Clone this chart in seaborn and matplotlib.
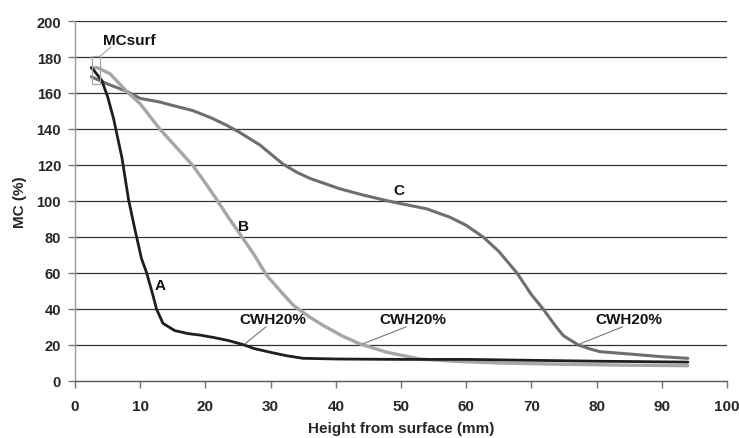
import matplotlib
matplotlib.use("Agg")
import matplotlib.pyplot as plt
import seaborn as sns
import pandas as pd
from matplotlib import font_manager
from matplotlib.patches import Rectangle

# ---- data ----
a_x = [2.5, 2.8, 4.1, 5.0, 5.9, 7.2, 8.2, 9.2, 10.2, 11.0, 12.0, 12.5, 13.5, 15.3, 17.4, 19.2,
       21.5, 23.5, 25.8, 27.5, 29.9, 32.5, 35, 40.6, 50, 60, 70, 80, 94]
a_y = [174, 173, 167, 158, 146, 124, 101, 84, 68, 60, 47, 40, 32, 28, 26.3, 25.5,
       24, 22.5, 20.2, 18, 16, 14, 12.6, 12.2, 12, 12, 11.5, 11, 10.5]

b_x = [2.5, 3.5, 5.4, 7.9, 10, 13, 15.5, 18.1, 20, 21.7, 23.5, 25.3, 27.5, 29.4, 31.5, 33.5,
       36, 38.1, 41, 43.7, 47.8, 52.9, 58, 65, 75, 85, 94]
b_y = [174, 174, 170.6, 161, 154, 140, 130, 119.6, 110, 101, 91, 81.7, 70, 58.7, 50, 42,
       35.5, 30.8, 25, 20.6, 16, 12.2, 11, 10, 9.3, 8.8, 8.5]

c_x = [2.5, 5, 7.9, 10, 13, 14, 18.1, 21, 23.3, 25.3, 28.4, 31.9, 34, 36, 40.6, 44, 47.8, 50,
       53.9, 57.5, 60, 62.6, 65, 67.7, 70, 71.8, 73.5, 74.9, 77.2, 79, 80.5, 85, 90, 94]
c_y = [169, 165, 161, 157, 155, 154, 150.2, 146, 142, 138, 131, 120.5, 116, 112.6, 106.8, 103.5,
       100.2, 98.5, 95.7, 91, 86.5, 80, 72, 60.4, 48, 40, 31.5, 25.2, 20, 17.8, 16.3, 15, 13.5, 12.6]

x_ticks = [0, 10, 20, 30, 40, 50, 60, 70, 80, 90, 100]
y_ticks = [0, 20, 40, 60, 80, 100, 120, 140, 160, 180, 200]

curve_labels = ["A", "B", "C"]
curve_label_pos = [(13.0, 53.5), (25.9, 86.0), (49.7, 106.0)]
cwh_text_pos = [(30.3, 34.6), (51.8, 34.6), (85.0, 34.6)]
cwh_point = [(26.1, 20.7), (44.2, 20.7), (77.5, 20.7)]

# ---- style ----
sns.set_style("white")
names = {f.name for f in font_manager.fontManager.ttflist}
narrow = "Liberation Sans Narrow" if "Liberation Sans Narrow" in names else "Liberation Sans"
plt.rcParams["font.family"] = ["Liberation Sans", "DejaVu Sans"]
plt.rcParams["font.weight"] = "bold"

fig = plt.figure(figsize=(7.39, 4.39), dpi=100)
ax = fig.add_axes([75 / 739, 57 / 439, 652 / 739, 360 / 439])

df_a = pd.DataFrame({"x": a_x, "y": a_y})
df_b = pd.DataFrame({"x": b_x, "y": b_y})
df_c = pd.DataFrame({"x": c_x, "y": c_y})

sns.lineplot(data=df_c, x="x", y="y", color="#6e6e6e", lw=2.2, sort=False, estimator=None, ax=ax, zorder=3)
sns.lineplot(data=df_b, x="x", y="y", color="#a6a6a6", lw=2.4, sort=False, estimator=None, ax=ax, zorder=4)
sns.lineplot(data=df_a, x="x", y="y", color="#1e1e1e", lw=2.0, sort=False, estimator=None, ax=ax, zorder=5)

ax.set_xlim(0, 100)
ax.set_ylim(0, 200)
ax.set_xticks(x_ticks)
ax.set_yticks(y_ticks)
ax.set_xticklabels([str(t) for t in x_ticks], fontfamily=narrow, fontweight="bold", fontsize=11)
ax.set_yticklabels([str(t) for t in y_ticks], fontweight="bold", fontsize=10.5)

for yv in y_ticks[1:]:
    ax.axhline(yv, color="#333333", lw=0.9, zorder=1)

for s in ["top", "right"]:
    ax.spines[s].set_visible(False)
ax.spines["left"].set_color("#999999")
ax.spines["left"].set_linewidth(1.0)
ax.spines["bottom"].set_color("#555555")
ax.spines["bottom"].set_linewidth(1.0)
ax.tick_params(axis="x", direction="out", length=5, width=1, color="#777777", pad=8, bottom=True)
ax.tick_params(axis="y", direction="out", length=5, width=1, color="#777777", pad=5, left=True)

ax.set_xlabel("Height from surface (mm)", fontsize=11, fontweight="bold", labelpad=6)
ax.set_ylabel("MC (%)", fontsize=11, fontweight="bold", labelpad=7)

# annotations
for lab, (lx, ly) in zip(curve_labels, curve_label_pos):
    ax.text(lx, ly, lab, fontsize=11, fontweight="bold", ha="center", va="center", color="#111111", zorder=6)

for (tx, ty), (px, py) in zip(cwh_text_pos, cwh_point):
    ax.text(tx, ty, "CWH20%", fontsize=11, fontweight="bold", ha="center", va="center", color="#111111", zorder=6)
    ax.plot([px, tx - 1.0], [py, ty - 4.5], color="#777777", lw=0.8, zorder=6)

ax.add_patch(Rectangle((2.6, 164.8), 1.2, 15.5, fill=False, ec="#aaaaaa", lw=0.9, zorder=6))
ax.plot([3.8, 5.5], [180.3, 185.5], color="#aaaaaa", lw=0.9, zorder=6)
ax.text(4.3, 189.5, "MCsurf", fontsize=11, fontweight="bold", ha="left", va="center", color="#111111", zorder=6)

fig.savefig("out.png", dpi=100)
